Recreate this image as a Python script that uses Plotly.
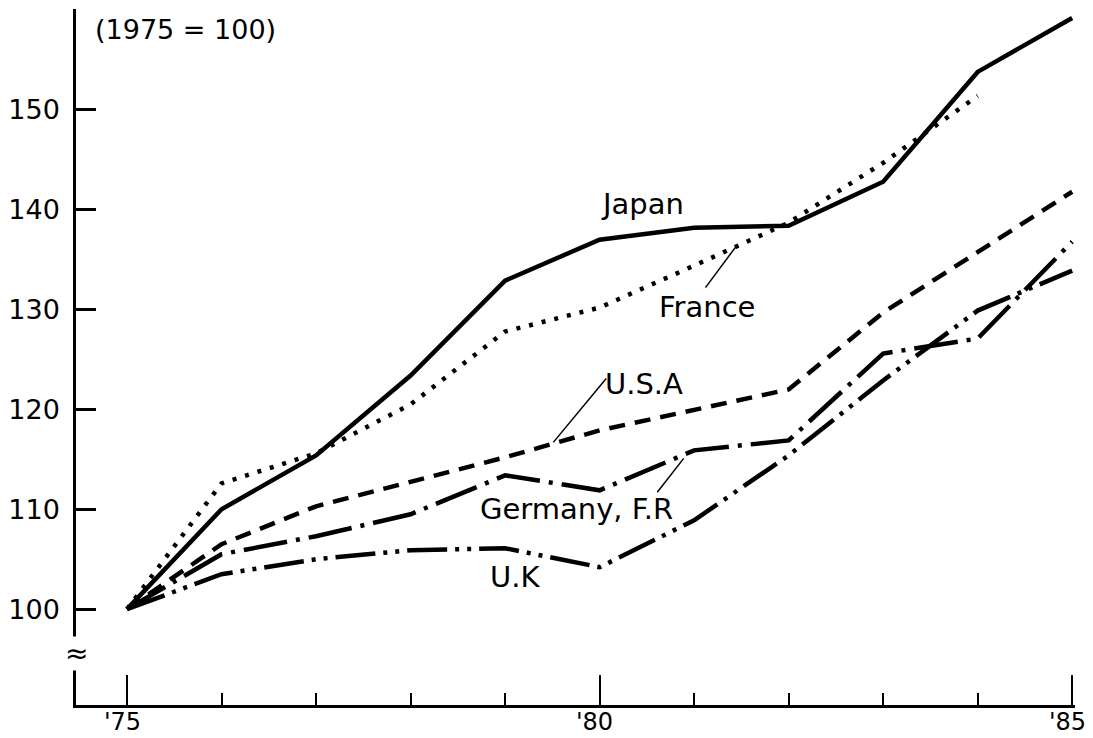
import plotly.graph_objects as go

years = [1975, 1976, 1977, 1978, 1979, 1980, 1981, 1982, 1983, 1984, 1985]
japan = [100, 110.0, 115.4, 123.4, 132.9, 137.0, 138.2, 138.4, 142.8, 153.8, 159.2]
france = [100, 112.6, 115.6, 120.5, 127.8, 130.2, 134.4, 138.7, 144.7, 151.4, None]
usa = [100, 106.5, 110.3, 112.7, 115.2, 117.9, 120.0, 122.0, 129.7, 135.8, 141.8]
germany = [100, 105.5, 107.3, 109.5, 113.4, 111.9, 115.9, 116.9, 125.6, 127.1, 136.8]
uk = [100, 103.5, 105.0, 105.9, 106.1, 104.2, 108.9, 115.4, 122.9, 129.9, 133.9]

y_ticks = [100, 110, 120, 130, 140, 150]
x_ticks = [1975, 1980, 1985]
x_ticktext = ["'75", "'80", "'85"]

FONT = "DejaVu Sans"

fig = go.Figure()
series = [
    ("Japan", japan, "solid"),
    ("France", france, "4px,9px"),
    ("U.S.A", usa, "16px,10px"),
    ("Germany, F.R", germany, "44px,9px,4px,9px"),
    ("U.K", uk, "40px,8px,4px,8px,4px,8px"),
]
for name, vals, dash in series:
    fig.add_trace(go.Scatter(x=years, y=vals, mode="lines", name=name,
                             line=dict(color="black", width=4.5, dash=dash),
                             connectgaps=False, showlegend=False))

annotations = [
    dict(text="(1975 = 100)", x=1975.62, y=158.0, size=27),
    dict(text="Japan", x=1980.45, y=140.6, size=29),
    dict(text="France", x=1981.14, y=130.3, size=29),
    dict(text="U.S.A", x=1980.47, y=122.5, size=29),
    dict(text="Germany, F.R", x=1979.76, y=110.0, size=29),
    dict(text="U.K", x=1979.1, y=103.2, size=29),
]
for a in annotations:
    fig.add_annotation(text=a["text"], x=a["x"], y=a["y"], xref="x", yref="y",
                       showarrow=False, font=dict(family=FONT, size=a["size"], color="black"))

# x tick labels as annotations anchored to the bottom edge so they are not clipped
for xv, xt in zip(x_ticks, x_ticktext):
    fig.add_annotation(text=xt, x=xv, y=-0.046, xref="x", yref="paper",
                       xanchor="center", yanchor="bottom", xshift=-5,
                       showarrow=False, borderpad=0,
                       font=dict(family=FONT, size=24, color="black"))

# axis break symbol
fig.add_annotation(text="≈", x=0, y=95.6, xref="paper", yref="y", showarrow=False,
                   xanchor="center", yanchor="middle",
                   font=dict(family=FONT, size=28, color="black"),
                   bgcolor="white", borderpad=0)

leaders = [
    (1981.12, 132.2, 1981.45, 136.4),
    (1980.07, 123.1, 1979.51, 116.7),
    (1980.61, 111.7, 1980.89, 115.1),
]
for x0, y0, x1, y1 in leaders:
    fig.add_shape(type="line", x0=x0, y0=y0, x1=x1, y1=y1, xref="x", yref="y",
                  line=dict(color="black", width=1.5))

# page body has an 8px margin, so the figure is sized/offset to compensate
fig.update_layout(
    width=1085, height=730,
    margin=dict(l=68, r=18, t=1, b=33),
    paper_bgcolor="white", plot_bgcolor="white",
    font=dict(family=FONT, color="black"),
)
fig.update_xaxes(range=[1974.46, 1985.03], showgrid=False, zeroline=False, automargin=False,
                 showline=True, linecolor="black", linewidth=2.5,
                 tickmode="array", tickvals=x_ticks, showticklabels=False,
                 ticks="inside", ticklen=30, tickwidth=2, tickcolor="black",
                 minor=dict(tickmode="linear", tick0=1975, dtick=1, ticks="inside",
                            ticklen=12, tickwidth=2, tickcolor="black", showgrid=False))
fig.update_yaxes(range=[90.4, 160.1], showgrid=False, zeroline=False, automargin=False,
                 showline=True, linecolor="black", linewidth=2.5,
                 tickmode="array", tickvals=y_ticks,
                 ticks="inside", ticklen=20, tickwidth=2.5, tickcolor="black",
                 ticklabelstandoff=8,
                 tickfont=dict(family=FONT, size=27))

fig.write_html("out.html")
